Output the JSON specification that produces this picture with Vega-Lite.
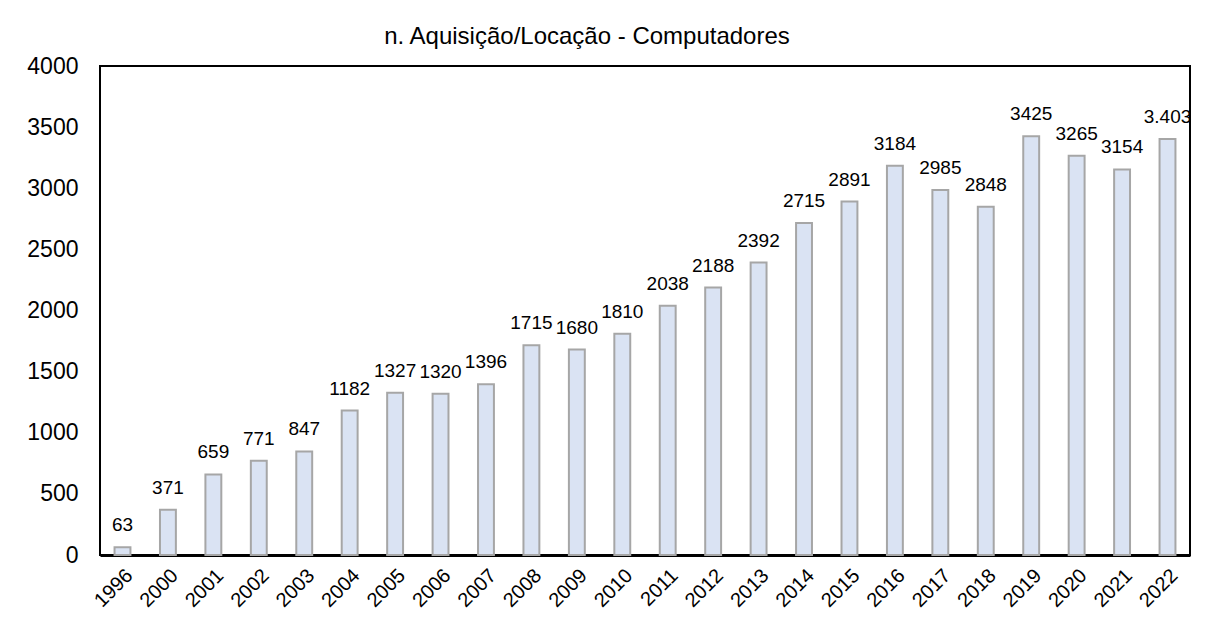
{
  "$schema": "https://vega.github.io/schema/vega-lite/v6.json",
  "autosize": {"type": "none"},
  "width": 1090,
  "height": 489,
  "padding": {"left": 100, "top": 66, "right": 17, "bottom": 82},
  "background": "white",
  "title": {"text": "n. Aquisição/Locação - Computadores", "font": "Liberation Sans", "fontSize": 24, "fontWeight": "normal", "color": "black", "offset": 6, "dx": -58},
  "data": {"values": [
    {"year": "1996", "value": 63, "label": "63"},
    {"year": "2000", "value": 371, "label": "371"},
    {"year": "2001", "value": 659, "label": "659"},
    {"year": "2002", "value": 771, "label": "771"},
    {"year": "2003", "value": 847, "label": "847"},
    {"year": "2004", "value": 1182, "label": "1182"},
    {"year": "2005", "value": 1327, "label": "1327"},
    {"year": "2006", "value": 1320, "label": "1320"},
    {"year": "2007", "value": 1396, "label": "1396"},
    {"year": "2008", "value": 1715, "label": "1715"},
    {"year": "2009", "value": 1680, "label": "1680"},
    {"year": "2010", "value": 1810, "label": "1810"},
    {"year": "2011", "value": 2038, "label": "2038"},
    {"year": "2012", "value": 2188, "label": "2188"},
    {"year": "2013", "value": 2392, "label": "2392"},
    {"year": "2014", "value": 2715, "label": "2715"},
    {"year": "2015", "value": 2891, "label": "2891"},
    {"year": "2016", "value": 3184, "label": "3184"},
    {"year": "2017", "value": 2985, "label": "2985"},
    {"year": "2018", "value": 2848, "label": "2848"},
    {"year": "2019", "value": 3425, "label": "3425"},
    {"year": "2020", "value": 3265, "label": "3265"},
    {"year": "2021", "value": 3154, "label": "3154"},
    {"year": "2022", "value": 3403, "label": "3.403"}
  ]},
  "encoding": {
    "x": {"field": "year", "type": "ordinal", "sort": null,
      "scale": {"paddingInner": 0.65, "paddingOuter": 0.32},
      "axis": {"title": null, "labelAngle": -45, "labelFontSize": 20, "labelFont": "Liberation Sans", "labelColor": "black", "ticks": false, "domain": true, "domainColor": "black", "domainWidth": 3, "labelPadding": 10}},
    "y": {"field": "value", "type": "quantitative",
      "scale": {"domain": [0, 4000]},
      "axis": {"title": null, "format": "d", "values": [0, 500, 1000, 1500, 2000, 2500, 3000, 3500, 4000], "grid": false, "ticks": false, "domain": false, "labelFontSize": 23, "labelFont": "Liberation Sans", "labelColor": "black", "labelPadding": 22}}
  },
  "layer": [
    {"mark": {"type": "bar", "fill": "#dae3f3", "stroke": "#a6a6a6", "strokeWidth": 2}},
    {"mark": {"type": "text", "baseline": "bottom", "dy": -12, "fontSize": 19, "font": "Liberation Sans", "color": "black"},
      "encoding": {"text": {"field": "label"}}}
  ],
  "config": {"view": {"stroke": "black", "strokeWidth": 2}}
}
